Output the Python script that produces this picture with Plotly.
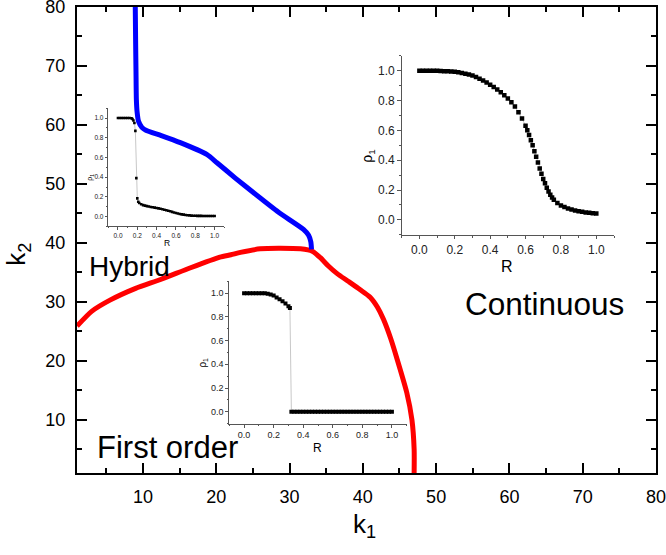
import plotly.graph_objects as go

# ---------------- data ----------------
blue_k1 = [8.95, 9.0, 9.05, 9.1, 9.2, 9.4, 9.85, 10.4, 12.5, 15.1, 18.7, 20.1, 22.6, 25.1, 28.5, 31.9, 32.6, 32.9, 33.0]
blue_k2 = [80.0, 74.0, 69.0, 64.3, 62.2, 60.6, 59.6, 59.1, 58.2, 57.0, 55.0, 53.6, 51.0, 48.5, 45.2, 42.3, 41.3, 40.2, 38.9]

red_k1 = [1.0, 3.0, 5.5, 9.0, 12.4, 16.5, 20.5, 22.0, 23.3, 26.0, 28.5, 31.5, 33.1, 34.2, 35.3, 36.5, 38.0, 39.6, 41.0, 42.0, 42.8, 43.8, 44.7, 46.0, 46.7, 47.0, 47.0]
red_k2 = [25.9, 28.4, 30.3, 32.3, 33.8, 35.8, 37.6, 38.0, 38.4, 39.0, 39.1, 39.0, 38.6, 37.5, 36.1, 34.8, 33.5, 32.1, 30.8, 29.1, 27.1, 23.8, 20.2, 14.6, 10.0, 5.0, 1.0]

# inset (upper left): hybrid transition
r_hyb = [0.00, 0.02, 0.04, 0.06, 0.08, 0.10, 0.12, 0.14, 0.15, 0.16, 0.17, 0.18, 0.19, 0.20, 0.21,
         0.22, 0.24, 0.26, 0.28, 0.30, 0.32, 0.34, 0.36, 0.38, 0.40, 0.42, 0.44, 0.46, 0.48, 0.50,
         0.52, 0.54, 0.56, 0.58, 0.60, 0.62, 0.64, 0.66, 0.68, 0.70, 0.72, 0.74, 0.76, 0.78, 0.80,
         0.82, 0.84, 0.86, 0.88, 0.90, 0.92, 0.94, 0.96, 0.98, 1.00]
rho_hyb = [1.0, 1.0, 1.0, 1.0, 1.0, 1.0, 1.0, 0.998, 0.99, 0.975, 0.95, 0.87, 0.39, 0.185, 0.15,
           0.138, 0.125, 0.117, 0.111, 0.106, 0.102, 0.098, 0.095, 0.091, 0.088, 0.084, 0.080, 0.075, 0.070, 0.065,
           0.060, 0.054, 0.048, 0.042, 0.036, 0.031, 0.027, 0.023, 0.020, 0.016, 0.014, 0.012, 0.010, 0.009, 0.008,
           0.007, 0.007, 0.007, 0.006, 0.006, 0.006, 0.006, 0.006, 0.006, 0.006]

# inset (bottom middle): first order transition
r_fo = [0.00, 0.02, 0.04, 0.06, 0.08, 0.10, 0.12, 0.14, 0.16, 0.18, 0.20, 0.22, 0.24, 0.26, 0.28, 0.30, 0.31,
        0.32, 0.34, 0.36, 0.38, 0.40, 0.42, 0.44, 0.46, 0.48, 0.50, 0.52, 0.54, 0.56, 0.58, 0.60,
        0.62, 0.64, 0.66, 0.68, 0.70, 0.72, 0.74, 0.76, 0.78, 0.80, 0.82, 0.84, 0.86, 0.88, 0.90,
        0.92, 0.94, 0.96, 0.98, 1.00]
rho_fo = [1.0, 1.0, 1.0, 1.0, 1.0, 1.0, 1.0, 0.999, 0.996, 0.99, 0.98, 0.965, 0.95, 0.932, 0.913, 0.89, 0.875,
          0.0, 0.0, 0.0, 0.0, 0.0, 0.0, 0.0, 0.0, 0.0, 0.0, 0.0, 0.0, 0.0, 0.0, 0.0,
          0.0, 0.0, 0.0, 0.0, 0.0, 0.0, 0.0, 0.0, 0.0, 0.0, 0.0, 0.0, 0.0, 0.0, 0.0,
          0.0, 0.0, 0.0, 0.0, 0.0]

# inset (upper right): continuous transition
r_co = [0.00, 0.02, 0.04, 0.06, 0.08, 0.10, 0.12, 0.14, 0.16, 0.18, 0.20, 0.22, 0.24, 0.26, 0.28, 0.30,
        0.32, 0.34, 0.36, 0.38, 0.40, 0.42, 0.44, 0.46, 0.48, 0.50, 0.52, 0.54, 0.56, 0.58, 0.60,
        0.61, 0.62, 0.63, 0.64, 0.65, 0.66, 0.67, 0.68, 0.69, 0.70, 0.71, 0.72, 0.73, 0.74, 0.75,
        0.76, 0.78, 0.80, 0.82, 0.84, 0.86, 0.88, 0.90, 0.92, 0.94, 0.96, 0.98, 1.00]
rho_co = [1.0, 1.0, 1.0, 1.0, 1.0, 1.0, 0.999, 0.998, 0.997, 0.996, 0.994, 0.99, 0.986, 0.98, 0.975, 0.968,
          0.958, 0.947, 0.935, 0.922, 0.907, 0.892, 0.875, 0.857, 0.836, 0.815, 0.79, 0.76, 0.722, 0.68, 0.632,
          0.602, 0.57, 0.535, 0.5, 0.46, 0.424, 0.385, 0.345, 0.31, 0.275, 0.245, 0.215, 0.19, 0.168, 0.15,
          0.135, 0.113, 0.097, 0.086, 0.077, 0.069, 0.063, 0.058, 0.054, 0.05, 0.047, 0.044, 0.042]

main_ticks = [10, 20, 30, 40, 50, 60, 70, 80]

# ---------------- layout helpers ----------------
W, H = 666, 555
ML, MR, MT, MB = 77, 10, 7, 81.5
PW, PH = W - ML - MR, H - MT - MB
FONT = "Arial, Liberation Sans, Helvetica, sans-serif"


def px(x):
    return (x - ML) / PW


def py(y):
    return (H - MB - y) / PH


def dom(x0, x1, y0, y1):
    return [px(x0), px(x1)], [py(y1), py(y0)]


fig = go.Figure()

fig.add_trace(go.Scatter(x=red_k1, y=red_k2, mode="lines", line=dict(color="#ff0000", width=5, shape="spline", smoothing=0.6),
                         xaxis="x", yaxis="y", showlegend=False))
fig.add_trace(go.Scatter(x=blue_k1, y=blue_k2, mode="lines", line=dict(color="#0000ff", width=5, shape="spline", smoothing=0.6),
                         xaxis="x", yaxis="y", showlegend=False))

insets = [
    (r_hyb, rho_hyb, "x2", "y2", 2.6),
    (r_fo, rho_fo, "x3", "y3", 4),
    (r_co, rho_co, "x4", "y4", 4.5),
]
for rx, ry, xa, ya, ms in insets:
    fig.add_trace(go.Scatter(x=rx, y=ry, mode="lines+markers", xaxis=xa, yaxis=ya, showlegend=False,
                             line=dict(color="#c8c8c8", width=1),
                             marker=dict(symbol="square", size=ms, color="black", line=dict(width=0))))

main_axis = dict(range=[1, 80.0001], tickvals=main_ticks, ticks="inside", ticklen=10, tickwidth=2, tickcolor="black",
                 showline=True, linewidth=2, linecolor="black", mirror="allticks", showgrid=False, zeroline=False,
                 automargin=False, ticklabeloverflow="allow",
                 tickfont=dict(family=FONT, size=18, color="black"), ticklabelstandoff=6,
                 minor=dict(ticks="inside", ticklen=5, tickwidth=2, tickcolor="black", dtick=5, tick0=0, showgrid=False))


def inset_axis(dom_, anchor, fs, tl):
    return dict(domain=dom_, anchor=anchor, range=[-0.1, 1.1], tickvals=[0, 0.2, 0.4, 0.6, 0.8, 1.0],
                ticktext=["0.0", "0.2", "0.4", "0.6", "0.8", "1.0"], ticks="outside", ticklen=tl, tickwidth=1,
                tickcolor="#555", showline=True, linewidth=1, linecolor="#555", showgrid=False, zeroline=False,
                automargin=False, ticklabeloverflow="allow",
                tickfont=dict(family=FONT, size=fs, color="#222"),
                minor=dict(ticks="outside", ticklen=max(1, tl - 1.5), tickwidth=1, tickcolor="#555", dtick=0.1, tick0=0,
                           showgrid=False))


d2x, d2y = dom(108.3, 224.3, 108.3, 226.7)
d3x, d3y = dom(229.3, 406.7, 281.7, 424.0)
d4x, d4y = dom(401.7, 614.0, 56.0, 235.0)

annos = []


def txt(t, x, y, size, angle=0, xanchor="center", yanchor="middle"):
    annos.append(dict(text=t, x=px(x), y=py(y), xref="paper", yref="paper", showarrow=False, textangle=angle,
                      xanchor=xanchor, yanchor=yanchor, font=dict(family=FONT, size=size, color="black")))


txt("k<sub>1</sub>", 364, 526, 26)
txt("k<sub>2</sub>", 18, 255, 26, angle=-90)
txt("Hybrid", 87, 267, 28, xanchor="left")
txt("Continuous", 463, 304, 31.5, xanchor="left")
txt("First order", 95, 448, 31, xanchor="left")
# inset labels
txt("R", 166.5, 243, 8.5)
txt("ρ<sub>1</sub>", 90, 178, 7, angle=-90)
txt("R", 317, 448, 12)
txt("ρ<sub>1</sub>", 203, 363, 10, angle=-90)
txt("R", 507, 267, 16)
txt("ρ<sub>1</sub>", 368, 157, 14, angle=-90)

fig.update_layout(
    width=W, height=H, margin=dict(l=ML, r=MR, t=MT, b=MB, pad=0, autoexpand=False),
    paper_bgcolor="white", plot_bgcolor="rgba(0,0,0,0)",
    xaxis=dict(main_axis, domain=[0, 1], anchor="y"),
    yaxis=dict(main_axis, domain=[0, 1], anchor="x"),
    xaxis2=inset_axis(d2x, "y2", 6.5, 2.5),
    yaxis2=inset_axis(d2y, "x2", 6.5, 2.5),
    xaxis3=inset_axis(d3x, "y3", 9, 3),
    yaxis3=inset_axis(d3y, "x3", 9, 3),
    xaxis4=inset_axis(d4x, "y4", 12, 3.5),
    yaxis4=inset_axis(d4y, "x4", 12, 3.5),
    annotations=annos,
    showlegend=False,
)

fig.write_html("out.html", config={"displayModeBar": False},
               post_script="document.body.style.margin='0';document.body.style.padding='0';")
